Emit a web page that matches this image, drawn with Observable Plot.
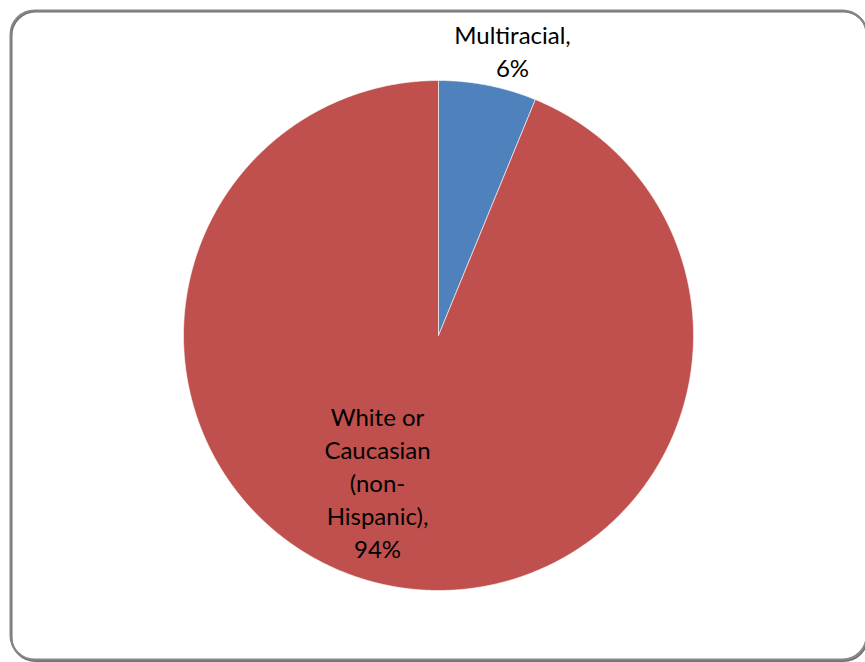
<!DOCTYPE html>
<html><head><meta charset="utf-8">
<script src="https://cdn.jsdelivr.net/npm/d3@7"></script>
<script src="https://cdn.jsdelivr.net/npm/@observablehq/plot@0.6"></script>
<style>body{margin:0;background:#fff;overflow:hidden}</style>
</head><body><div id="chart"></div>
<script>
const categories = ["Multiracial", "White or Caucasian (non-Hispanic)"];
const values = [6.2, 93.8];
const labels = ["Multiracial,\n6%", "White or\nCaucasian\n(non-\nHispanic),\n94%"];
const colors = ["#4F81BD", "#C0504D"];

// layout
const W = 865, H = 662, cx = 438, cy = 335, R = 255;
const data = categories.map((c, i) => ({name: c, value: values[i], label: labels[i]}));
const arcs = d3.pie().sort(null).value(d => d.value)(data);
const pts = [];
for (const a of arcs) {
  const name = a.data.name;
  pts.push({name, x: cx, y: cy});
  const n = Math.max(4, Math.ceil((a.endAngle - a.startAngle) / 0.005));
  for (let k = 0; k <= n; k++) {
    const t = a.startAngle + (a.endAngle - a.startAngle) * k / n;
    pts.push({name, x: cx + R * Math.sin(t), y: cy - R * Math.cos(t)});
  }
  pts.push({name, x: cx, y: cy});
}
// label placement (Excel best-fit style)
const labelPos = [
  {x: cx + 74, y: cy - 286},
  {x: cx - 61, y: cy + 146}
];
const labelData = data.map((d, i) => ({...d, ...labelPos[i]}));

const chart = Plot.plot({
  width: W, height: H,
  margin: 0,
  x: {domain: [0, W], range: [0, W], axis: null},
  y: {domain: [0, H], range: [0, H], axis: null},
  color: {domain: categories, range: colors},
  style: {fontFamily: "Lato, sans-serif", background: "#fff"},
  marks: [
    Plot.frame({rx: 24, stroke: "#000", strokeOpacity: 0.55, strokeWidth: 2, insetLeft: 11, insetTop: 11, insetRight: -2, insetBottom: 1.5}),
    Plot.frame({rx: 24, stroke: "#868686", strokeWidth: 2, insetLeft: 10, insetTop: 10, insetRight: -1, insetBottom: 3}),
    Plot.line(pts, {x: "x", y: "y", z: "name", fill: "name", stroke: "#fff", strokeWidth: 0.75, strokeOpacity: 0.8, curve: "linear"}),
    Plot.text(labelData, {x: "x", y: "y", text: "label", fontSize: 24, lineHeight: 1.375, fill: "#000", textAnchor: "middle"})
  ]
});
document.getElementById("chart").append(chart);
</script>
</body></html>
